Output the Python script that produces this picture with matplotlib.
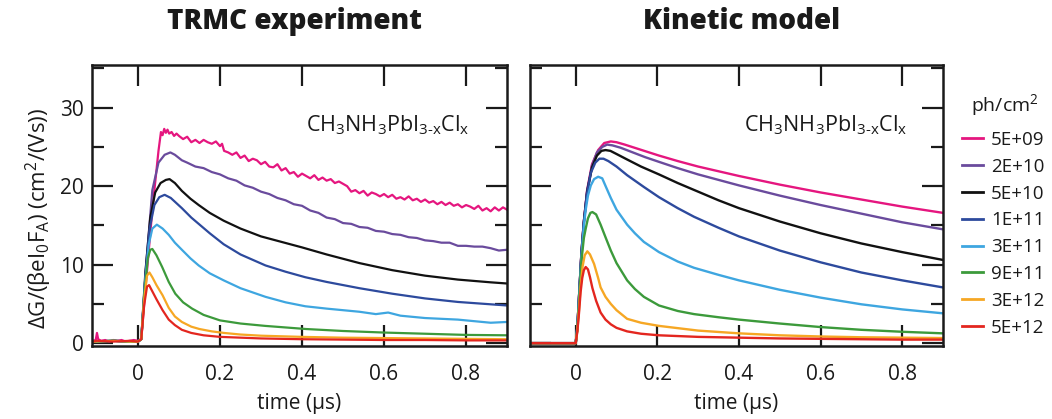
import matplotlib
matplotlib.use("Agg")
import matplotlib.pyplot as plt
from matplotlib.ticker import MultipleLocator

plt.rcParams['font.family'] = ['Open Sans', 'DejaVu Sans']
plt.rcParams['mathtext.fontset'] = 'custom'
plt.rcParams['mathtext.rm'] = 'Open Sans'
plt.rcParams['mathtext.it'] = 'Open Sans:italic'
plt.rcParams['mathtext.bf'] = 'Open Sans:bold'

# fluence labels and colours (legend order, top to bottom)
fluences = ['5E+09', '2E+10', '5E+10', '1E+11', '3E+11', '9E+11', '3E+12', '5E+12']
colors = ['#E5167F', '#6A4B9D', '#111111', '#2D4A9D', '#3EA6E0', '#3C9A3B', '#F6A724', '#E3261F']

# ---- TRMC experiment ----
t_exp_pink = [-0.11, -0.103, -0.1, -0.097, -0.09, -0.08, -0.07, -0.06, -0.05, -0.04, -0.03, -0.02,
              -0.01, 0.0, 0.008, 0.02, 0.035, 0.05, 0.056, 0.06, 0.064, 0.068, 0.072, 0.076, 0.082,
              0.088, 0.094, 0.1, 0.11, 0.12, 0.13, 0.14, 0.15, 0.16, 0.17, 0.18, 0.19, 0.2, 0.205,
              0.21, 0.22, 0.23, 0.24, 0.25, 0.26, 0.27, 0.28, 0.29, 0.3, 0.31, 0.32, 0.33, 0.34,
              0.35, 0.36, 0.37, 0.38, 0.39, 0.4, 0.41, 0.42, 0.43, 0.44, 0.45, 0.46, 0.47, 0.48,
              0.49, 0.5, 0.51, 0.52, 0.53, 0.54, 0.55, 0.56, 0.57, 0.58, 0.59, 0.6, 0.61, 0.62,
              0.63, 0.64, 0.65, 0.66, 0.67, 0.68, 0.69, 0.7, 0.71, 0.72, 0.73, 0.74, 0.75, 0.76,
              0.77, 0.78, 0.79, 0.8, 0.81, 0.82, 0.83, 0.84, 0.85, 0.86, 0.87, 0.88, 0.89, 0.9]
v_exp_pink = [0.3, 0.4, 1.3, 0.5, 0.3, 0.4, 0.2, 0.4, 0.3, 0.4, 0.2, 0.3,
              0.4, 0.3, 0.5, 8.0, 17.0, 24.5, 26.9, 26.5, 27.3, 26.8, 27.2, 26.7, 26.9,
              26.4, 26.7, 26.4, 26.0, 26.3, 25.6, 25.9, 25.5, 25.9, 25.6, 25.4, 25.7, 25.1, 25.4,
              24.5, 24.3, 24.0, 24.3, 23.6, 23.9, 23.2, 23.5, 23.3, 22.8, 23.1, 22.5, 22.4, 22.8,
              22.0, 22.3, 21.6, 21.8, 21.2, 21.6, 21.3, 21.0, 21.4, 20.8, 21.1, 20.7, 20.9, 20.4,
              20.6, 20.3, 20.0, 19.3, 19.5, 19.1, 19.4, 18.8, 19.2, 19.0, 18.7, 19.0, 18.6, 18.9,
              18.4, 18.6, 18.3, 18.7, 18.2, 18.4, 18.0, 18.3, 17.9, 18.1, 17.7, 18.0, 17.6, 17.9,
              17.5, 17.7, 17.3, 17.6, 17.4, 17.1, 17.5, 16.9, 17.2, 16.8, 17.3, 16.9, 17.3, 17.0]

t_exp_purple = [-0.11, -0.06, -0.02, 0.0, 0.008, 0.02, 0.035, 0.05, 0.065, 0.079, 0.09, 0.107,
                0.12, 0.14, 0.16, 0.18, 0.2, 0.22, 0.24, 0.26, 0.28, 0.3, 0.32, 0.34, 0.36, 0.38,
                0.4, 0.42, 0.44, 0.46, 0.48, 0.5, 0.52, 0.54, 0.56, 0.58, 0.6, 0.62, 0.64, 0.66,
                0.68, 0.7, 0.72, 0.74, 0.76, 0.78, 0.8, 0.82, 0.84, 0.86, 0.88, 0.9]
v_exp_purple = [0.2, 0.3, 0.2, 0.2, 0.5, 10.0, 19.5, 23.0, 24.0, 24.3, 24.0, 23.3,
                23.0, 22.5, 22.3, 21.8, 21.5, 21.0, 20.7, 20.1, 19.8, 19.3, 19.0, 18.5, 18.2, 17.7,
                17.5, 16.9, 16.6, 16.0, 15.8, 15.3, 15.2, 14.8, 14.7, 14.3, 14.2, 13.9, 13.8, 13.5,
                13.4, 13.1, 13.0, 12.8, 12.8, 12.4, 12.4, 12.3, 12.3, 12.1, 11.8, 11.9]

t_exp_black = [-0.11, -0.06, -0.02, 0.0, 0.008, 0.018, 0.03, 0.042, 0.055, 0.068, 0.077, 0.09,
               0.107, 0.128, 0.148, 0.175, 0.209, 0.25, 0.3, 0.35, 0.4, 0.46, 0.54, 0.62,
               0.7, 0.78, 0.86, 0.9]
v_exp_black = [0.2, 0.3, 0.2, 0.2, 0.5, 9.0, 16.0, 19.2, 20.4, 20.8, 20.9, 20.4,
               19.4, 18.4, 17.6, 16.6, 15.6, 14.6, 13.6, 12.9, 12.2, 11.3, 10.2, 9.3,
               8.6, 8.1, 7.75, 7.6]

t_exp_dblue = [-0.11, -0.06, -0.02, 0.0, 0.008, 0.018, 0.028, 0.04, 0.052, 0.065, 0.08, 0.107,
               0.13, 0.148, 0.175, 0.209, 0.25, 0.311, 0.36, 0.408, 0.46, 0.54, 0.62, 0.7,
               0.78, 0.86, 0.9]
v_exp_dblue = [0.2, 0.3, 0.2, 0.2, 0.5, 8.5, 14.5, 17.6, 18.6, 18.9, 18.5, 17.2,
               16.0, 15.2, 14.0, 12.6, 11.3, 9.9, 9.1, 8.4, 7.8, 7.0, 6.3, 5.7,
               5.25, 4.95, 4.8]

t_exp_lblue = [-0.11, -0.06, -0.02, 0.0, 0.008, 0.017, 0.026, 0.035, 0.046, 0.06, 0.075, 0.09,
               0.107, 0.128, 0.148, 0.175, 0.209, 0.25, 0.311, 0.36, 0.408, 0.46, 0.54, 0.58,
               0.61, 0.64, 0.7, 0.78, 0.84, 0.86, 0.9]
v_exp_lblue = [0.2, 0.3, 0.2, 0.2, 0.5, 7.5, 12.5, 14.6, 15.1, 14.6, 13.8, 12.8,
               11.9, 10.8, 9.9, 8.9, 8.0, 7.0, 5.9, 5.2, 4.7, 4.4, 4.0, 3.7,
               3.9, 3.5, 3.2, 3.0, 2.7, 2.6, 2.7]

t_exp_green = [-0.11, -0.06, -0.02, 0.0, 0.008, 0.016, 0.024, 0.03, 0.035, 0.045, 0.059, 0.075,
               0.091, 0.11, 0.132, 0.16, 0.2, 0.25, 0.31, 0.36, 0.41, 0.5, 0.6, 0.7, 0.8, 0.9]
v_exp_green = [0.2, 0.3, 0.2, 0.2, 0.5, 6.5, 10.8, 11.9, 12.0, 11.2, 9.7, 7.8,
               6.3, 5.2, 4.4, 3.6, 2.9, 2.5, 2.2, 2.0, 1.8, 1.55, 1.35, 1.2, 1.05, 1.0]

t_exp_orange = [-0.11, -0.06, -0.02, 0.0, 0.008, 0.015, 0.022, 0.028, 0.035, 0.045, 0.06, 0.075,
                0.09, 0.107, 0.13, 0.15, 0.18, 0.21, 0.25, 0.3, 0.4, 0.5, 0.6, 0.7, 0.8, 0.9]
v_exp_orange = [0.2, 0.3, 0.2, 0.2, 0.5, 5.5, 8.6, 9.0, 8.4, 7.4, 6.1, 4.5,
                3.4, 2.7, 2.1, 1.8, 1.5, 1.3, 1.1, 0.95, 0.8, 0.7, 0.65, 0.6, 0.55, 0.5]

t_exp_red = [-0.11, -0.1, -0.06, -0.02, 0.0, 0.008, 0.015, 0.022, 0.027, 0.035, 0.045, 0.06,
             0.075, 0.09, 0.107, 0.13, 0.16, 0.2, 0.25, 0.3, 0.4, 0.5, 0.6, 0.7, 0.8, 0.9]
v_exp_red = [0.2, 0.3, 0.2, 0.3, 0.2, 0.5, 4.8, 7.2, 7.4, 6.6, 5.6, 4.2,
             3.0, 2.3, 1.7, 1.3, 1.0, 0.8, 0.7, 0.6, 0.5, 0.45, 0.4, 0.4, 0.35, 0.35]

# ---- Kinetic model ----
t_mod_pink = [-0.11, 0.0, 0.004, 0.008, 0.014, 0.02, 0.028, 0.04, 0.055, 0.07, 0.086, 0.1, 0.12,
              0.15, 0.18, 0.204, 0.25, 0.3, 0.35, 0.4, 0.5, 0.6, 0.7, 0.8, 0.9]
v_mod_pink = [0.0, 0.0, 2.0, 5.8, 11.5, 15.5, 19.5, 22.8, 24.6, 25.5, 25.7, 25.6, 25.3,
              24.8, 24.3, 23.9, 23.2, 22.5, 21.9, 21.3, 20.2, 19.2, 18.3, 17.4, 16.6]
t_mod_purple = [-0.11, 0.0, 0.004, 0.008, 0.014, 0.02, 0.028, 0.04, 0.052, 0.065, 0.077, 0.09,
                0.11, 0.14, 0.17, 0.204, 0.25, 0.3, 0.35, 0.4, 0.5, 0.6, 0.7, 0.8, 0.9]
v_mod_purple = [0.0, 0.0, 2.0, 5.8, 11.5, 15.5, 19.4, 22.6, 24.3, 25.0, 25.3, 25.2,
                24.9, 24.3, 23.7, 23.1, 22.3, 21.5, 20.8, 20.1, 18.8, 17.6, 16.5, 15.4, 14.5]
t_mod_black = [-0.11, 0.0, 0.004, 0.008, 0.014, 0.02, 0.028, 0.04, 0.052, 0.063, 0.073, 0.085,
               0.1, 0.126, 0.16, 0.204, 0.25, 0.3, 0.35, 0.4, 0.5, 0.6, 0.7, 0.8, 0.9]
v_mod_black = [0.0, 0.0, 2.0, 5.8, 11.5, 15.5, 19.3, 22.4, 23.9, 24.5, 24.6, 24.5,
               24.1, 23.4, 22.5, 21.5, 20.4, 19.3, 18.2, 17.2, 15.5, 14.0, 12.7, 11.6, 10.6]
t_mod_dblue = [-0.11, 0.0, 0.004, 0.008, 0.014, 0.02, 0.027, 0.037, 0.048, 0.058, 0.068, 0.08,
               0.1, 0.126, 0.167, 0.204, 0.25, 0.29, 0.35, 0.4, 0.5, 0.6, 0.7, 0.8, 0.9]
v_mod_dblue = [0.0, 0.0, 2.0, 5.8, 11.3, 15.3, 18.8, 21.7, 23.0, 23.5, 23.5, 23.2,
               22.5, 21.4, 19.9, 18.6, 17.2, 16.1, 14.7, 13.6, 11.8, 10.3, 9.0, 8.0, 7.1]
t_mod_lblue = [-0.11, 0.0, 0.004, 0.008, 0.014, 0.02, 0.0245, 0.03, 0.037, 0.045, 0.055, 0.065,
               0.075, 0.086, 0.1, 0.126, 0.145, 0.167, 0.204, 0.25, 0.29, 0.35, 0.4, 0.5,
               0.6, 0.7, 0.8, 0.9]
v_mod_lblue = [0.0, 0.0, 2.0, 5.6, 11.0, 15.0, 17.0, 18.8, 20.1, 20.9, 21.2, 21.0,
               19.8, 18.5, 17.0, 15.1, 14.0, 12.9, 11.6, 10.4, 9.6, 8.7, 8.0, 6.8,
               5.8, 4.95, 4.3, 3.8]
t_mod_green = [-0.11, 0.0, 0.004, 0.008, 0.014, 0.02, 0.0245, 0.03, 0.036, 0.041, 0.05, 0.061,
               0.073, 0.086, 0.1, 0.126, 0.145, 0.167, 0.204, 0.25, 0.29, 0.35, 0.4, 0.5,
               0.6, 0.7, 0.8, 0.9]
v_mod_green = [0.0, 0.0, 1.8, 5.0, 10.5, 13.4, 14.6, 15.9, 16.6, 16.7, 16.4, 15.1,
               13.5, 11.8, 10.2, 8.0, 6.9, 5.9, 4.8, 4.1, 3.7, 3.3, 3.0, 2.5,
               2.05, 1.7, 1.45, 1.25]
t_mod_orange = [-0.11, 0.0, 0.004, 0.008, 0.012, 0.017, 0.022, 0.0285, 0.035, 0.045, 0.055, 0.061,
                0.073, 0.086, 0.1, 0.126, 0.16, 0.204, 0.3, 0.4, 0.5, 0.6, 0.7, 0.8, 0.9]
v_mod_orange = [0.0, 0.0, 1.6, 4.2, 7.2, 9.8, 11.2, 11.7, 11.3, 10.1, 8.3, 7.1,
                5.9, 5.0, 4.2, 3.1, 2.6, 2.2, 1.6, 1.25, 1.0, 0.85, 0.75, 0.7, 0.65]
t_mod_red = [-0.11, 0.0, 0.004, 0.008, 0.012, 0.016, 0.02, 0.0245, 0.03, 0.035, 0.041, 0.05,
             0.061, 0.073, 0.086, 0.1, 0.126, 0.16, 0.204, 0.3, 0.4, 0.5, 0.6, 0.7, 0.8, 0.9]
v_mod_red = [0.0, 0.0, 1.5, 3.8, 6.5, 8.3, 9.3, 9.7, 9.4, 8.4, 7.0, 5.4,
             3.9, 3.0, 2.4, 1.95, 1.5, 1.2, 1.0, 0.8, 0.7, 0.6, 0.55, 0.5, 0.45, 0.45]

exp_series = [(t_exp_pink, v_exp_pink), (t_exp_purple, v_exp_purple), (t_exp_black, v_exp_black),
              (t_exp_dblue, v_exp_dblue), (t_exp_lblue, v_exp_lblue), (t_exp_green, v_exp_green),
              (t_exp_orange, v_exp_orange), (t_exp_red, v_exp_red)]
mod_series = [(t_mod_pink, v_mod_pink), (t_mod_purple, v_mod_purple), (t_mod_black, v_mod_black),
              (t_mod_dblue, v_mod_dblue), (t_mod_lblue, v_mod_lblue), (t_mod_green, v_mod_green),
              (t_mod_orange, v_mod_orange), (t_mod_red, v_mod_red)]

compound = r'CH$_3$NH$_3$PbI$_{\mathregular{3\text{-}x}}$Cl$_{\mathregular{x}}$'
ink = '#1a1a1a'


def style_axes(ax, show_ylabels):
    ax.set_xlim(-0.112, 0.9)
    ax.set_ylim(-0.3, 35.5)
    ax.set_xticks([0, 0.2, 0.4, 0.6, 0.8])
    ax.set_xticklabels(['0', '0.2', '0.4', '0.6', '0.8'])
    ax.yaxis.set_major_locator(MultipleLocator(10))
    ax.yaxis.set_minor_locator(MultipleLocator(5))
    ax.tick_params(which='both', direction='in', top=True, right=True, width=1.6,
                   labelsize=15, colors=ink)
    ax.tick_params(which='major', length=15)
    ax.tick_params(which='minor', length=8.5)
    ax.tick_params(axis='x', pad=13)
    ax.tick_params(axis='y', pad=6)
    if not show_ylabels:
        ax.tick_params(axis='y', labelleft=False)
    for s in ax.spines.values():
        s.set_linewidth(1.8)
        s.set_color(ink)
    ax.set_xlabel('time (µs)', fontsize=15, labelpad=6, color=ink)


fig = plt.figure(figsize=(10.52, 4.19), dpi=100)
ax1 = fig.add_axes([0.0875, 0.1754, 0.3945, 0.6706])
ax2 = fig.add_axes([0.5038, 0.1754, 0.3926, 0.6706])

for (t, v), c in zip(exp_series, colors):
    ax1.plot(t, v, color=c, lw=1.6)
handles = []
for (t, v), c in zip(mod_series, colors):
    line, = ax2.plot(t, v, color=c, lw=1.7)
    handles.append(line)

style_axes(ax1, True)
style_axes(ax2, False)

ax1.text(0.515, 0.761, compound, transform=ax1.transAxes, fontsize=15.5, va='baseline', color=ink)
ax2.text(0.519, 0.761, compound, transform=ax2.transAxes, fontsize=15.5, va='baseline', color=ink)

fig.text(294 / 1052, 1 - 29 / 419, 'TRMC experiment', ha='center', va='baseline',
         fontsize=20, weight='heavy', color=ink)
fig.text(742 / 1052, 1 - 29 / 419, 'Kinetic model', ha='center', va='baseline',
         fontsize=20, weight='heavy', color=ink)

fig.text(39 / 1052, 1 - 218 / 419,
         'ΔG/(βeI$_0$F$_\\mathregular{A}$) (cm$^2$/(Vs))',
         rotation=90, ha='center', va='center', fontsize=16, color=ink)

fig.text(1005 / 1052, 1 - 105 / 419, 'ph/cm$^2$', ha='center', va='center',
         fontsize=14, color=ink)
leg = fig.legend(handles, fluences, loc='upper left',
                 bbox_to_anchor=(962 / 1052, 1 - 131 / 419), frameon=False,
                 fontsize=13.5, handlelength=1.1, handletextpad=0.45,
                 labelspacing=0.47, borderpad=0, borderaxespad=0)
for line in leg.get_lines():
    line.set_linewidth(2)
for txt in leg.get_texts():
    txt.set_color(ink)

fig.savefig('out.png', dpi=100)
